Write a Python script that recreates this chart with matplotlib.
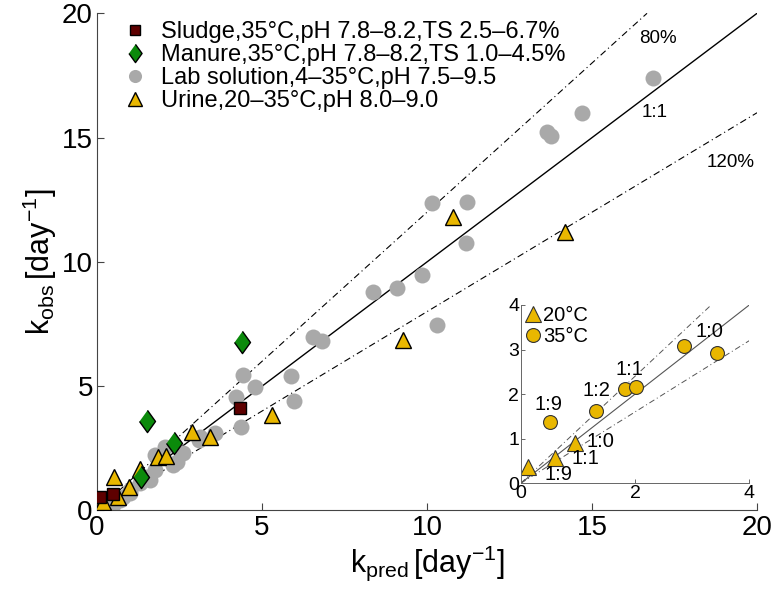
import matplotlib
matplotlib.use('Agg')
import matplotlib.pyplot as plt

plt.rcParams['font.family'] = ['Liberation Sans', 'DejaVu Sans']
plt.rcParams['mathtext.fontset'] = 'custom'
plt.rcParams['mathtext.rm'] = 'Liberation Sans'
plt.rcParams['mathtext.it'] = 'Liberation Sans'

# main panel data (k_pred, k_obs) in day^-1
sludge_x = [0.09, 0.49, 4.33]
sludge_y = [0.53, 0.65, 4.11]

manure_x = [1.51, 2.33, 1.32, 4.38]
manure_y = [3.60, 2.70, 1.34, 6.79]

lab_x = [16.86, 14.69, 13.63, 13.75, 10.14, 11.20, 11.18, 9.84, 9.08, 8.37, 10.31,
         6.55, 6.81, 4.42, 4.79, 5.87, 5.97, 4.21, 4.35, 3.58, 3.12, 3.10, 2.62,
         2.42, 2.31, 2.06, 1.76, 1.76, 1.51, 1.61, 1.30, 1.00, 1.00, 0.80, 0.70,
         0.49, 0.39, 0.19, 0.14]
lab_y = [17.39, 15.98, 15.24, 15.07, 12.36, 12.40, 10.75, 9.48, 8.94, 8.80, 7.46,
         6.97, 6.83, 5.45, 4.98, 5.41, 4.42, 4.58, 3.37, 3.10, 2.97, 2.84, 2.30,
         1.96, 1.83, 2.57, 2.23, 1.63, 1.36, 1.23, 1.09, 0.82, 0.70, 0.56, 0.42,
         0.22, 0.22, 0.02, 0.05]

urine_x = [0.52, 0.98, 1.30, 1.86, 2.09, 2.87, 3.42, 0.19, 0.65, 5.29, 10.80, 9.26, 14.18]
urine_y = [1.36, 0.93, 1.66, 2.14, 2.19, 3.15, 2.97, 0.35, 0.56, 3.84, 11.82, 6.86, 11.22]

labels = ['Sludge,35°C,pH 7.8–8.2,TS 2.5–6.7%',
          'Manure,35°C,pH 7.8–8.2,TS 1.0–4.5%',
          'Lab solution,4–35°C,pH 7.5–9.5',
          'Urine,20–35°C,pH 8.0–9.0']

# inset data: urine mixing ratios
in20_x = [0.13, 0.60, 0.95]
in20_y = [0.37, 0.56, 0.90]
in35_x = [0.51, 1.31, 1.83, 2.02, 2.85, 3.44]
in35_y = [1.37, 1.61, 2.11, 2.15, 3.08, 2.93]

in_text = ['1:0', '1:1', '1:2', '1:9', '1:0', '1:1', '1:9']
in_text_x = [3.31, 1.91, 1.33, 0.48, 1.39, 1.13, 0.66]
in_text_y = [3.40, 2.56, 2.09, 1.76, 0.93, 0.56, 0.19]

gray = '#a9a9a9'
yellow = '#e9b700'
green = '#0b8a0b'
maroon = '#5e0000'
diamond = [(0, 1), (0.72, 0), (0, -1), (-0.72, 0)]
dashdot = (6, 3, 1, 3)

fig = plt.figure(figsize=(7.75, 5.97), dpi=100)
ax = fig.add_axes([0.1252, 0.1449, 0.8516, 0.8328])

ax.plot([0, 20], [0, 20], color='k', lw=1.0, zorder=1)
ax.plot([0, 20 / 1.2], [0, 20], color='k', lw=0.8, dashes=dashdot, zorder=1)
ax.plot([0, 20], [0, 16], color='k', lw=0.8, dashes=dashdot, zorder=1)

h_lab, = ax.plot(lab_x, lab_y, 'o', ms=11.5, color=gray, mec='none', zorder=2, label=labels[2])
h_uri, = ax.plot(urine_x, urine_y, '^', ms=12, mfc=yellow, mec='k', mew=1.0, zorder=3, label=labels[3])
h_man, = ax.plot(manure_x, manure_y, marker=diamond, ls='none', ms=16, mfc=green, mec='k', mew=1.0, zorder=4, label=labels[1])
h_slu, = ax.plot(sludge_x, sludge_y, 's', ms=8.5, mfc=maroon, mec='k', mew=1.0, zorder=5, label=labels[0])

ax.text(17.0, 19.0, '80%', fontsize=13.5, ha='center', va='center')
ax.text(16.9, 16.0, '1:1', fontsize=13.5, ha='center', va='center')
ax.text(19.2, 14.0, '120%', fontsize=13.5, ha='center', va='center')

ax.set_xlim(0, 20)
ax.set_ylim(0, 20)
ax.set_xticks([0, 5, 10, 15, 20])
ax.set_yticks([0, 5, 10, 15, 20])
ax.tick_params(direction='in', length=5, width=0.8, labelsize=20, pad=3, colors='#444444', labelcolor='k')
for s in ['top', 'right']:
    ax.spines[s].set_visible(False)
for s in ['left', 'bottom']:
    ax.spines[s].set_color('#444444')
    ax.spines[s].set_linewidth(0.8)
ax.set_xlabel(r'$\mathrm{k_{pred}\,[day^{-1}]}$', fontsize=22, labelpad=2)
ax.set_ylabel(r'$\mathrm{k_{obs}\,[day^{-1}]}$', fontsize=22, labelpad=2)

ax.legend(handles=[h_slu, h_man, h_lab, h_uri], loc='upper left', bbox_to_anchor=(0.039, 0.985),
          frameon=False, fontsize=17, numpoints=1, handlelength=1.0, handletextpad=0.6,
          labelspacing=0.05, borderpad=0, borderaxespad=0, markerscale=0.82)

# inset
ins = fig.add_axes([0.6719, 0.1905, 0.295, 0.2987])
ins.patch.set_alpha(0)
ins.plot([0, 4], [0, 4], color='#555555', lw=0.8)
ins.plot([0, 4 / 1.2], [0, 4], color='#555555', lw=0.7, dashes=dashdot)
ins.plot([0, 4], [0, 3.2], color='#555555', lw=0.7, dashes=dashdot)
ins.plot(in20_x, in20_y, '^', ms=11.5, mfc=yellow, mec='#333333', mew=0.8, label='20°C')
ins.plot(in35_x, in35_y, 'o', ms=10, mfc=yellow, mec='#333333', mew=0.8, label='35°C')
for t, x, y in zip(in_text, in_text_x, in_text_y):
    ins.text(x, y, t, fontsize=14.5, ha='center', va='center')
ins.set_xlim(0, 4)
ins.set_ylim(0, 4)
ins.set_xticks([0, 2, 4])
ins.set_yticks([0, 1, 2, 3, 4])
ins.tick_params(direction='in', length=3, width=0.7, labelsize=14, pad=1, colors='#666666', labelcolor='k')
for s in ['top', 'right']:
    ins.spines[s].set_visible(False)
for s in ['left', 'bottom']:
    ins.spines[s].set_color('#666666')
    ins.spines[s].set_linewidth(0.7)
ins.legend(loc='upper left', bbox_to_anchor=(0.02, 0.995), frameon=False, fontsize=14.5,
           numpoints=1, handlelength=0.8, handletextpad=0.1, labelspacing=0.1,
           borderpad=0, borderaxespad=0)

fig.savefig('out.png', dpi=100)
